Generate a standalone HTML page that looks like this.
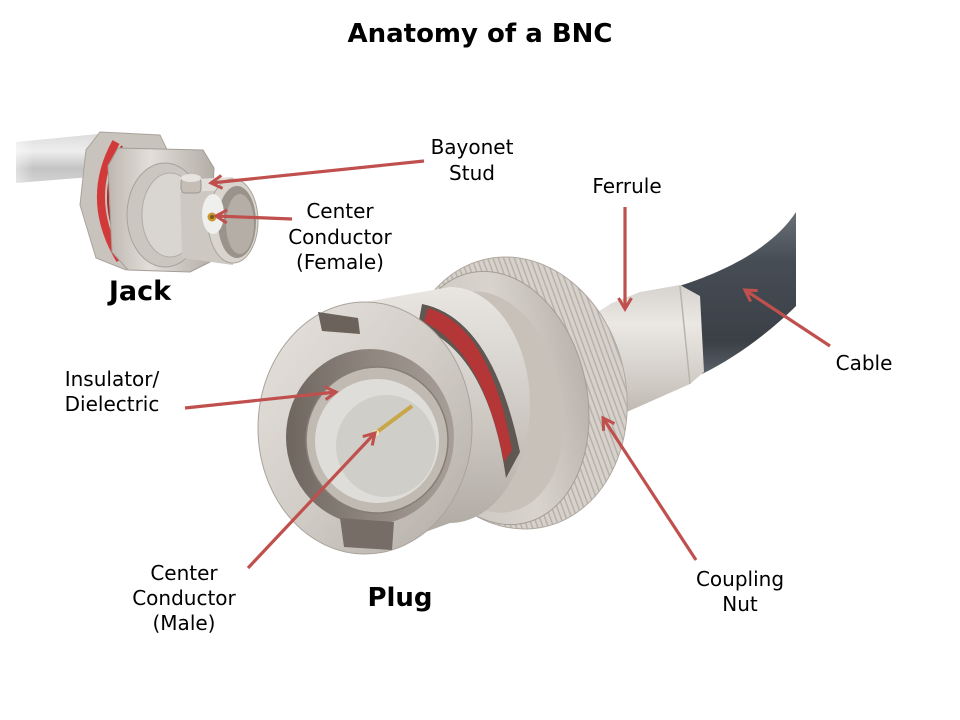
<!DOCTYPE html>
<html><head><meta charset="utf-8"><style>
html,body{margin:0;padding:0;background:#fff;}
svg{display:block;}
text{font-family:"DejaVu Sans","Liberation Sans",sans-serif;fill:#000;}
</style></head><body>
<svg width="960" height="720" viewBox="0 0 960 720" xmlns="http://www.w3.org/2000/svg">
<defs>
<linearGradient id="rod" x1="0" y1="0" x2="0" y2="1">
<stop offset="0" stop-color="#dcdcdc"/><stop offset="0.35" stop-color="#eeeeee"/><stop offset="0.7" stop-color="#c4c4c4"/><stop offset="1" stop-color="#d2d2d2"/></linearGradient>
<linearGradient id="rodfade" x1="0" y1="0" x2="1" y2="0">
<stop offset="0" stop-color="#fff" stop-opacity="0.45"/><stop offset="0.2" stop-color="#fff" stop-opacity="0"/></linearGradient>
<linearGradient id="silverV" x1="0" y1="0" x2="0" y2="1">
<stop offset="0" stop-color="#e9e6e2"/><stop offset="0.5" stop-color="#cdc8c2"/><stop offset="1" stop-color="#aaa49d"/></linearGradient>
<linearGradient id="silverH" x1="0" y1="0" x2="1" y2="0">
<stop offset="0" stop-color="#bdb7b0"/><stop offset="0.4" stop-color="#e2ded9"/><stop offset="1" stop-color="#b3ada6"/></linearGradient>
<linearGradient id="face" x1="0" y1="0" x2="1" y2="1">
<stop offset="0" stop-color="#e6e2dd"/><stop offset="0.5" stop-color="#d2cdc7"/><stop offset="1" stop-color="#b2aca5"/></linearGradient>
<linearGradient id="darkring" x1="0" y1="0" x2="1" y2="0">
<stop offset="0" stop-color="#6d655e"/><stop offset="0.5" stop-color="#8f877f"/><stop offset="1" stop-color="#a79f97"/></linearGradient>
<linearGradient id="cable" x1="0" y1="0" x2="0" y2="1">
<stop offset="0" stop-color="#6a7078"/><stop offset="0.3" stop-color="#474d55"/><stop offset="0.8" stop-color="#3b4047"/><stop offset="1" stop-color="#5a6067"/></linearGradient>
<linearGradient id="ferrule" x1="0" y1="0" x2="0" y2="1">
<stop offset="0" stop-color="#d6d2cd"/><stop offset="0.3" stop-color="#ebe8e4"/><stop offset="0.75" stop-color="#d0cbc5"/><stop offset="1" stop-color="#bdb7b0"/></linearGradient>
<linearGradient id="nut" x1="0" y1="0" x2="1" y2="0">
<stop offset="0" stop-color="#c9c3bc"/><stop offset="0.6" stop-color="#d8d3cd"/><stop offset="1" stop-color="#bab4ad"/></linearGradient>
<pattern id="knurl" width="5" height="5" patternUnits="userSpaceOnUse" patternTransform="rotate(-8)">
<rect width="5" height="5" fill="#d6d1cb"/><rect width="1.5" height="5" fill="#b8b1aa"/></pattern>
<marker id="ah" viewBox="0 0 16 16" refX="13" refY="8" markerWidth="16" markerHeight="16" markerUnits="userSpaceOnUse" orient="auto">
<path d="M2,1.5 L13,8 L2,14.5" fill="none" stroke="#c0504d" stroke-width="3" stroke-linejoin="miter"/></marker>
</defs>

<!-- ===== JACK ===== -->
<polygon points="16,142 98,134 104,176 16,183" fill="url(#rod)"/>
<polygon points="16,142 98,134 104,176 16,183" fill="url(#rodfade)"/>
<!-- back hex nut -->
<polygon points="100,132 160,135 172,160 166,258 126,270 96,258 80,205 86,150" fill="#c8c3bd" stroke="#a9a39c" stroke-width="1"/>
<path d="M116,142 Q84,200 120,260" fill="none" stroke="#d23a3a" stroke-width="8"/>
<path d="M122,146 Q92,200 126,258" fill="none" stroke="#b02c2c" stroke-width="2"/>
<!-- front hex nut -->
<polygon points="118,148 203,150 214,168 210,262 190,272 128,270 112,252 108,166" fill="url(#silverH)" stroke="#a49e97" stroke-width="1"/>
<ellipse cx="165" cy="215" rx="38" ry="52" fill="#cbc6c0" stroke="#a8a29b"/>
<ellipse cx="170" cy="215" rx="28" ry="42" fill="#d9d5d0" stroke="#b2aca5"/>
<!-- barrel -->
<polygon points="180,180 233,177 233,265 182,258" fill="#cdc8c2"/>
<polygon points="180,180 233,177 233,190 180,192" fill="#e2ded9"/>
<!-- stud -->
<rect x="181" y="178" width="20" height="15" rx="4" fill="#c4beb7" stroke="#9e978f"/>
<ellipse cx="191" cy="178" rx="10" ry="4" fill="#e7e3de"/>
<!-- socket rim -->
<ellipse cx="233" cy="221" rx="25" ry="42" fill="#d9d4ce" stroke="#aaa49d"/>
<ellipse cx="237" cy="222" rx="19" ry="36" fill="#9a938b"/>
<ellipse cx="240" cy="224" rx="14" ry="30" fill="#b4aea6"/>
<!-- insulator + pin -->
<ellipse cx="213" cy="214" rx="11" ry="20" fill="#efefed"/>
<circle cx="212" cy="217" r="4.5" fill="#c8962e"/>
<circle cx="212" cy="217" r="2" fill="#7a5a1a"/>

<!-- ===== PLUG ===== -->
<!-- cable -->
<path d="M676,287 C715,275 770,252 796,212 L796,306 C770,332 735,358 702,374 Z" fill="url(#cable)"/>
<!-- ferrule -->
<polygon points="596,313 612,303 640,292 680,285 700,296 704,372 690,384 620,415 598,410" fill="url(#ferrule)"/>
<line x1="680" y1="286" x2="690" y2="384" stroke="#b9b3ac" stroke-width="1.5"/>
<!-- coupling nut -->
<ellipse cx="515" cy="393" rx="111" ry="137" transform="rotate(-12 515 393)" fill="url(#knurl)" stroke="#b0a9a2"/>
<ellipse cx="497" cy="398" rx="90" ry="128" transform="rotate(-12 497 398)" fill="url(#nut)" stroke="#a59e97"/>
<ellipse cx="488" cy="402" rx="74" ry="112" transform="rotate(-12 488 402)" fill="#c7c1ba"/>
<!-- sleeve body -->
<path d="M365,302 L450,287 A80,118 0 0 1 450,523 L365,554 A107,126 0 0 1 365,302 Z" fill="url(#silverV)"/>
<!-- slot with red gasket -->
<path d="M422,304 Q492,318 520,452 L506,478 Q488,352 418,326 Z" fill="#5e5752"/>
<path d="M428,308 Q490,326 512,450 L504,462 Q482,350 424,322 Z" fill="#b43636"/>
<!-- front face -->
<ellipse cx="365" cy="428" rx="107" ry="126" fill="url(#face)" stroke="#aaa39c"/>
<ellipse cx="370" cy="437" rx="84" ry="88" fill="url(#darkring)"/>
<!-- notches -->
<polygon points="318,312 358,318 360,334 322,331" fill="#6a625b"/>
<polygon points="340,518 394,522 392,550 344,547" fill="#756d66"/>
<ellipse cx="377" cy="440" rx="71" ry="73" fill="#c0bab3" stroke="#857e77" stroke-width="1.5"/>
<ellipse cx="377" cy="441" rx="62" ry="62" fill="#dfddd9"/>
<ellipse cx="386" cy="446" rx="50" ry="51" fill="#d0cec9"/>
<line x1="377" y1="432" x2="412" y2="406" stroke="#c9a64a" stroke-width="4"/>
<circle cx="376" cy="433" r="3" fill="#f3e7b0"/>

<!-- ===== ARROWS ===== -->
<g stroke="#c0504d" stroke-width="3.2" fill="none" marker-end="url(#ah)">
<line x1="424" y1="161" x2="211" y2="183"/>
<line x1="292" y1="219" x2="216" y2="216"/>
<line x1="625" y1="207" x2="625" y2="309"/>
<line x1="830" y1="346" x2="745" y2="290"/>
<line x1="185" y1="408" x2="336" y2="392"/>
<line x1="248" y1="568" x2="375" y2="433"/>
<line x1="696" y1="560" x2="603" y2="418"/>
</g>

<!-- ===== TEXT ===== -->
<text x="480" y="42" text-anchor="middle" font-size="26" font-weight="bold">Anatomy of a BNC</text>
<g font-size="20" text-anchor="middle">
<text x="472" y="154">Bayonet</text>
<text x="472" y="180">Stud</text>
<text x="627" y="193">Ferrule</text>
<text x="340" y="218">Center</text>
<text x="340" y="244">Conductor</text>
<text x="340" y="269">(Female)</text>
<text x="112" y="386">Insulator/</text>
<text x="112" y="411">Dielectric</text>
<text x="864" y="370">Cable</text>
<text x="184" y="580">Center</text>
<text x="184" y="605">Conductor</text>
<text x="184" y="630">(Male)</text>
<text x="740" y="586">Coupling</text>
<text x="740" y="611">Nut</text>
</g>
<text x="140" y="300" text-anchor="middle" font-size="27" font-weight="bold">Jack</text>
<text x="400" y="606" text-anchor="middle" font-size="26" font-weight="bold">Plug</text>
</svg>
</body></html>
